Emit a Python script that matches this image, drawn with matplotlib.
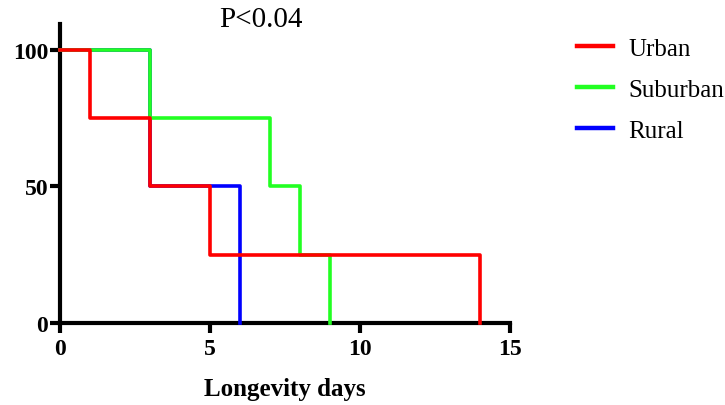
import matplotlib
matplotlib.use("Agg")
import matplotlib.pyplot as plt

groups = ["Urban", "Suburban", "Rural"]
colors = ["#FF0000", "#22FF22", "#0000FF"]
urban_t = [0, 1, 3, 5, 14]
urban_s = [100, 75, 50, 25, 0]
suburban_t = [0, 3, 7, 8, 9]
suburban_s = [100, 75, 50, 25, 0]
rural_t = [0, 3, 6]
rural_s = [100, 50, 0]
x_ticks = [0, 5, 10, 15]
y_ticks = [0, 50, 100]
p_text = "P<0.04"
x_label = "Longevity days"

plt.rcParams['font.family'] = ['Liberation Serif', 'DejaVu Serif']

fig = plt.figure(figsize=(7.25, 4.06), dpi=100)
ax = fig.add_axes([60/725, 1-324/406, 450/725, 299/406])

series = [(urban_t, urban_s), (suburban_t, suburban_s), (rural_t, rural_s)]
handles = []
for (t, s), name, c, z in zip(series, groups, colors, [5, 4, 3]):
    h, = ax.step(t, s, where='post', color=c, lw=2.6, label=name, zorder=z, clip_on=False)
    handles.append(h)

ax.set_xlim(0, 15)
ax.set_ylim(0, 109.5)
ax.spines['top'].set_visible(False)
ax.spines['right'].set_visible(False)
for sp in ['left', 'bottom']:
    ax.spines[sp].set_linewidth(3.0)
    ax.spines[sp].set_zorder(2)
ax.spines['bottom'].set_bounds(0, 15)
ax.spines['left'].set_bounds(0, 109.5)
ax.set_xticks(x_ticks)
ax.set_yticks(y_ticks)
ax.tick_params(axis='both', direction='out', length=7.5, width=3.0, labelsize=17)
ax.tick_params(axis='x', pad=3)
ax.tick_params(axis='y', pad=1)
for lab in ax.get_xticklabels() + ax.get_yticklabels():
    lab.set_fontweight('bold')
ax.set_xlabel(x_label, fontsize=18, fontweight='bold', labelpad=13)

ax.text(6.7, 111.4, p_text, fontsize=21, ha='center', va='center')

leg = ax.legend(handles=handles, loc='upper left', bbox_to_anchor=(567/725, 1-28/406),
                bbox_transform=fig.transFigure, frameon=False, fontsize=18,
                borderaxespad=0, borderpad=0.4,
                handlelength=1.44, handletextpad=0.6, labelspacing=0.75)
for lh in leg.get_lines():
    lh.set_linewidth(3.2)

fig.savefig("out.png", dpi=100)
